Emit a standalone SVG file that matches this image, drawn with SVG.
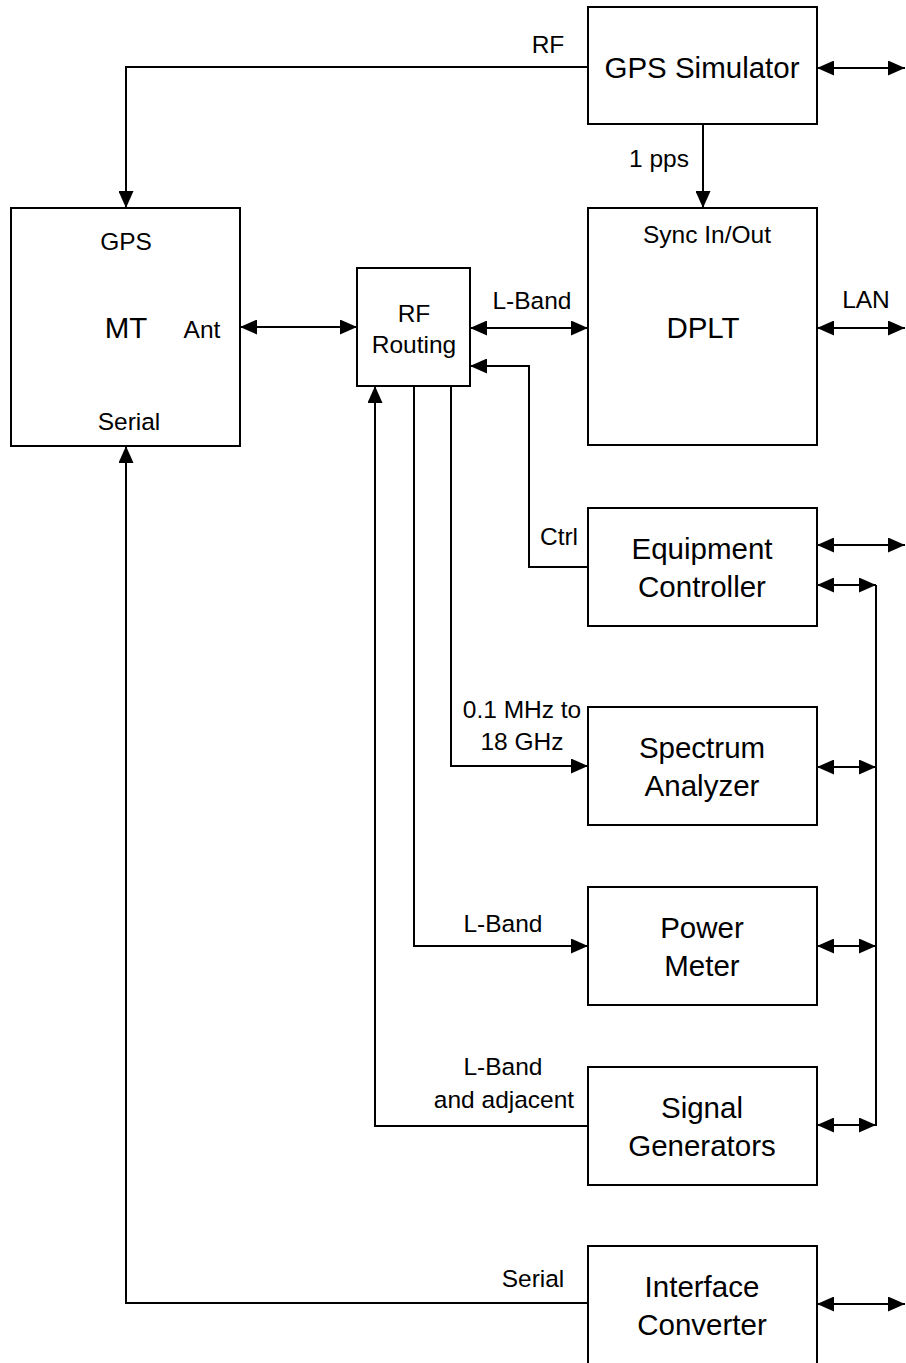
<svg xmlns="http://www.w3.org/2000/svg" width="906" height="1363" viewBox="0 0 906 1363">
<style>
.box{fill:#fff;stroke:#000;stroke-width:2}
.ln{fill:none;stroke:#000;stroke-width:2}
.big{font-family:"Liberation Sans",Arial,sans-serif;font-size:29.5px;fill:#000;text-anchor:middle}
.sm{font-family:"Liberation Sans",Arial,sans-serif;font-size:24.5px;fill:#000;text-anchor:middle}
</style>
<defs>
<marker id="ah" markerUnits="userSpaceOnUse" markerWidth="17" markerHeight="15" refX="17" refY="7.5" orient="auto-start-reverse" viewBox="0 0 17 15">
<path d="M0,0 L17,7.5 L0,15 z" fill="#000"/>
</marker>
</defs>
<rect width="906" height="1363" fill="#fff"/>
<g id="connectors">
<path class="ln" d="M588,67 H126 V208" marker-end="url(#ah)"/>
<path class="ln" d="M817,68 H905" marker-start="url(#ah)" marker-end="url(#ah)"/>
<path class="ln" d="M703,124 V208" marker-end="url(#ah)"/>
<path class="ln" d="M240,327 H357" marker-start="url(#ah)" marker-end="url(#ah)"/>
<path class="ln" d="M470,328 H588" marker-start="url(#ah)" marker-end="url(#ah)"/>
<path class="ln" d="M817,328 H905" marker-start="url(#ah)" marker-end="url(#ah)"/>
<path class="ln" d="M588,567 H529 V366 H470" marker-end="url(#ah)"/>
<path class="ln" d="M817,545 H905" marker-start="url(#ah)" marker-end="url(#ah)"/>
<path class="ln" d="M817,585 H876" marker-start="url(#ah)" marker-end="url(#ah)"/>
<path class="ln" d="M876,585 V1126"/>
<path class="ln" d="M817,767 H876" marker-start="url(#ah)" marker-end="url(#ah)"/>
<path class="ln" d="M817,946 H876" marker-start="url(#ah)" marker-end="url(#ah)"/>
<path class="ln" d="M817,1125 H876" marker-start="url(#ah)" marker-end="url(#ah)"/>
<path class="ln" d="M451,386 V766 H588" marker-end="url(#ah)"/>
<path class="ln" d="M414,386 V946 H588" marker-end="url(#ah)"/>
<path class="ln" d="M588,1126 H375 V386" marker-end="url(#ah)"/>
<path class="ln" d="M588,1303 H126 V446" marker-end="url(#ah)"/>
<path class="ln" d="M817,1304 H905" marker-start="url(#ah)" marker-end="url(#ah)"/>
</g>
<g id="labels">
<text class="sm" x="548" y="53">RF</text>
<text class="sm" x="659" y="167">1 pps</text>
<text class="sm" x="532" y="309">L-Band</text>
<text class="sm" x="866" y="308">LAN</text>
<text class="sm" x="559" y="545">Ctrl</text>
<text class="sm" x="522" y="718">0.1 MHz to</text>
<text class="sm" x="522" y="750">18 GHz</text>
<text class="sm" x="503" y="932">L-Band</text>
<text class="sm" x="503" y="1075">L-Band</text>
<text class="sm" x="504" y="1108">and adjacent</text>
<text class="sm" x="533" y="1287">Serial</text>
</g>
<g id="gps-simulator">
<rect class="box" x="588" y="7" width="229" height="117"/>
<text class="big" x="702" y="78">GPS Simulator</text>
</g>
<g id="mt">
<rect class="box" x="11" y="208" width="229" height="238"/>
<text class="sm" x="126" y="250">GPS</text>
<text class="big" x="126" y="338">MT</text>
<text class="sm" x="202" y="338">Ant</text>
<text class="sm" x="129" y="430">Serial</text>
</g>
<g id="rf-routing">
<rect class="box" x="357" y="268" width="113" height="118"/>
<text class="sm" x="414" y="322">RF</text>
<text class="sm" x="414" y="353">Routing</text>
</g>
<g id="dplt">
<rect class="box" x="588" y="208" width="229" height="237"/>
<text class="sm" x="707" y="243">Sync In/Out</text>
<text class="big" x="703" y="338">DPLT</text>
</g>
<g id="equipment-controller">
<rect class="box" x="588" y="508" width="229" height="118"/>
<text class="big" x="702" y="559">Equipment</text>
<text class="big" x="702" y="597">Controller</text>
</g>
<g id="spectrum-analyzer">
<rect class="box" x="588" y="707" width="229" height="118"/>
<text class="big" x="702" y="758">Spectrum</text>
<text class="big" x="702" y="796">Analyzer</text>
</g>
<g id="power-meter">
<rect class="box" x="588" y="887" width="229" height="118"/>
<text class="big" x="702" y="938">Power</text>
<text class="big" x="702" y="976">Meter</text>
</g>
<g id="signal-generators">
<rect class="box" x="588" y="1067" width="229" height="118"/>
<text class="big" x="702" y="1118">Signal</text>
<text class="big" x="702" y="1156">Generators</text>
</g>
<g id="interface-converter">
<rect class="box" x="588" y="1246" width="229" height="140"/>
<text class="big" x="702" y="1297">Interface</text>
<text class="big" x="702" y="1335">Converter</text>
</g>
</svg>
